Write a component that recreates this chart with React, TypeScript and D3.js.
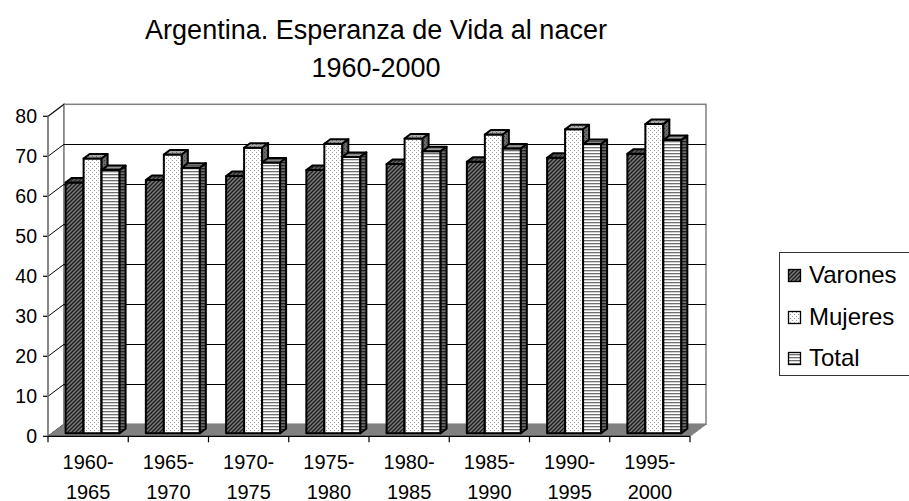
import React from "react";
import * as d3 from "d3";

const categories = ["1960-1965", "1965-1970", "1970-1975", "1975-1980", "1980-1985", "1985-1990", "1990-1995", "1995-2000"];
const seriesNames = ["Varones", "Mujeres", "Total"];
const varones = [62.7, 63.3, 64.3, 65.8, 67.3, 67.9, 68.9, 69.9];
const mujeres = [68.7, 69.7, 71.4, 72.4, 73.7, 74.7, 76.0, 77.3];
const total = [65.8, 66.4, 67.7, 69.1, 70.5, 71.2, 72.3, 73.3];
const yTicks = [0, 10, 20, 30, 40, 50, 60, 70, 80];

const FONT = "'Liberation Sans', Arial, sans-serif";

// 3d offsets: wall depth and bar placement inside it
const DX = 16, DY = -12;
const BX = 4, BY = -3;
const BDX = 6, BDY = -4.5;

export default function App() {
  const x = d3.scaleBand().domain(categories).range([48, 690]);
  const xs = d3.scaleBand().domain(seriesNames).range([13.6, 67.6]);
  const y = d3.scaleLinear().domain([0, 80]).range([436.3, 116.3]);
  const data = [varones, mujeres, total];
  const bw = xs.bandwidth();

  const y0 = y(0);
  const x0 = x.range()[0];
  const x1 = x.range()[1];
  const yTop = y(80);

  const fills = [
    { front: "url(#varF)", side: "url(#varS)", top: "url(#varT)" },
    { front: "url(#mujF)", side: "url(#mujS)", top: "url(#mujT)" },
    { front: "url(#totF)", side: "url(#totS)", top: "url(#totT)" },
  ];

  const bars: React.ReactNode[] = [];
  categories.forEach((c, i) => {
    seriesNames.forEach((s, j) => {
      const v = data[j][i];
      const bx = (x(c) as number) + (xs(s) as number) + BX;
      const yt = y(v) + BY;
      const yb = y0 + BY;
      const f = fills[j];
      bars.push(
        <g key={c + s} stroke="#000" strokeWidth={2} strokeLinejoin="round">
          <rect x={bx} y={yt} width={bw} height={yb - yt} fill={f.front} />
          <path d={`M${bx},${yt}L${bx + bw},${yt}L${bx + bw + BDX},${yt + BDY}L${bx + BDX},${yt + BDY}Z`} fill={f.top} />
          <path d={`M${bx + bw},${yt}L${bx + bw + BDX},${yt + BDY}L${bx + bw + BDX},${yb + BDY}L${bx + bw},${yb}Z`} fill={f.side} />
        </g>
      );
    });
  });

  const legendY = [275, 317, 358];

  return (
    <svg width={909} height={501} style={{ position: "absolute", left: 0, top: 0, background: "#fff" }}>
      <defs>
        <pattern id="varF" width={4} height={4} patternUnits="userSpaceOnUse">
          <rect width={4} height={4} fill="#7a7a7a" />
          <path d="M0,4L4,0M-1,1L1,-1M3,5L5,3" stroke="#1a1a1a" strokeWidth={1.3} />
        </pattern>
        <pattern id="varS" width={4} height={4} patternUnits="userSpaceOnUse">
          <rect width={4} height={4} fill="#4a4a4a" />
          <path d="M0,4L4,0M-1,1L1,-1M3,5L5,3" stroke="#111" strokeWidth={1.2} />
        </pattern>
        <pattern id="varT" width={4} height={4} patternUnits="userSpaceOnUse">
          <rect width={4} height={4} fill="#606060" />
          <path d="M0,4L4,0M-1,1L1,-1M3,5L5,3" stroke="#222" strokeWidth={1.2} />
        </pattern>
        <pattern id="mujF" width={4} height={4} patternUnits="userSpaceOnUse">
          <rect width={4} height={4} fill="#fff" />
          <rect x={0} y={0} width={1} height={1} fill="#a0a0a0" />
          <rect x={2} y={2} width={1} height={1} fill="#a0a0a0" />
        </pattern>
        <pattern id="mujS" width={4} height={4} patternUnits="userSpaceOnUse">
          <rect width={4} height={4} fill="#6a6a6a" />
          <rect x={0} y={0} width={1} height={1} fill="#333" />
          <rect x={2} y={2} width={1} height={1} fill="#333" />
        </pattern>
        <pattern id="mujT" width={4} height={4} patternUnits="userSpaceOnUse">
          <rect width={4} height={4} fill="#aaa" />
          <rect x={0} y={0} width={1} height={1} fill="#666" />
          <rect x={2} y={2} width={1} height={1} fill="#666" />
        </pattern>
        <pattern id="totF" width={3} height={3} patternUnits="userSpaceOnUse">
          <rect width={3} height={3} fill="#fff" />
          <rect width={3} height={1.3} fill="#707070" />
        </pattern>
        <pattern id="totS" width={3} height={3} patternUnits="userSpaceOnUse">
          <rect width={3} height={3} fill="#6a6a6a" />
          <rect width={3} height={1.3} fill="#222" />
        </pattern>
        <pattern id="totT" width={3} height={3} patternUnits="userSpaceOnUse">
          <rect width={3} height={3} fill="#999" />
          <rect width={3} height={1.3} fill="#555" />
        </pattern>
      </defs>

      {/* title */}
      <text x={376} y={39} textAnchor="middle" fontFamily={FONT} fontSize={27} fill="#000">
        Argentina. Esperanza de Vida al nacer
      </text>
      <text x={376} y={77} textAnchor="middle" fontFamily={FONT} fontSize={27} fill="#000">
        1960-2000
      </text>

      {/* walls */}
      <path d={`M${x0},${y0}L${x0},${yTop}L${x0 + DX},${yTop + DY}L${x0 + DX},${y0 + DY}Z`} fill="#fff" stroke="#808080" strokeWidth={1.5} />
      <rect x={x0 + DX} y={yTop + DY} width={x1 - x0} height={y0 - yTop} fill="#fff" stroke="#808080" strokeWidth={1.5} />

      {/* gridlines on back wall + ticks with diagonals */}
      {yTicks.map((t) => (
        <g key={t}>
          {t > 0 && t < 80 && (
            <line x1={x0 + DX} x2={x1 + DX} y1={Math.round(y(t) + DY) + 0.5} y2={Math.round(y(t) + DY) + 0.5} stroke="#000" strokeWidth={1} />
          )}
          <line x1={x0} x2={x0 + DX} y1={y(t)} y2={y(t) + DY} stroke="#000" strokeWidth={1} />
          <line x1={x0 - 5} x2={x0} y1={y(t)} y2={y(t)} stroke="#000" strokeWidth={1.2} />
          <text x={37} y={y(t)} dy="0.35em" textAnchor="end" fontFamily={FONT} fontSize={19.5} fill="#000">
            {t}
          </text>
        </g>
      ))}

      {/* floor */}
      <path d={`M${x0},${y0}L${x1},${y0}L${x1 + DX},${y0 + DY}L${x0 + DX},${y0 + DY}Z`} fill="#808080" stroke="#808080" strokeWidth={1} />
      <line x1={x0} x2={x0} y1={yTop} y2={y0} stroke="#808080" strokeWidth={1.5} />

      {bars}

      {/* x axis */}
      <line x1={x0} x2={x1} y1={y0} y2={y0} stroke="#000" strokeWidth={1.2} />
      {[...categories.map((c) => x(c) as number), x1].map((p, i) => (
        <line key={i} x1={p} x2={p} y1={y0} y2={y0 + 6} stroke="#000" strokeWidth={1.2} />
      ))}
      {categories.map((c) => {
        const [a, b] = c.split("-");
        const cx = (x(c) as number) + x.bandwidth() / 2;
        return (
          <text key={c} x={cx} textAnchor="middle" fontFamily={FONT} fontSize={20} fill="#000">
            <tspan x={cx} y={469}>{a + "-"}</tspan>
            <tspan x={cx} y={499}>{b}</tspan>
          </text>
        );
      })}

      {/* legend */}
      <rect x={779.5} y={252.5} width={140} height={123} fill="#fff" stroke="#333" strokeWidth={1} />
      {seriesNames.map((s, j) => (
        <g key={s}>
          <rect x={788.5} y={legendY[j] - 5.5} width={12} height={12} fill={fills[j].front} stroke="#000" strokeWidth={1.3} />
          <text x={809} y={legendY[j]} dy="0.35em" fontFamily={FONT} fontSize={24} fill="#000">
            {s}
          </text>
        </g>
      ))}
    </svg>
  );
}
